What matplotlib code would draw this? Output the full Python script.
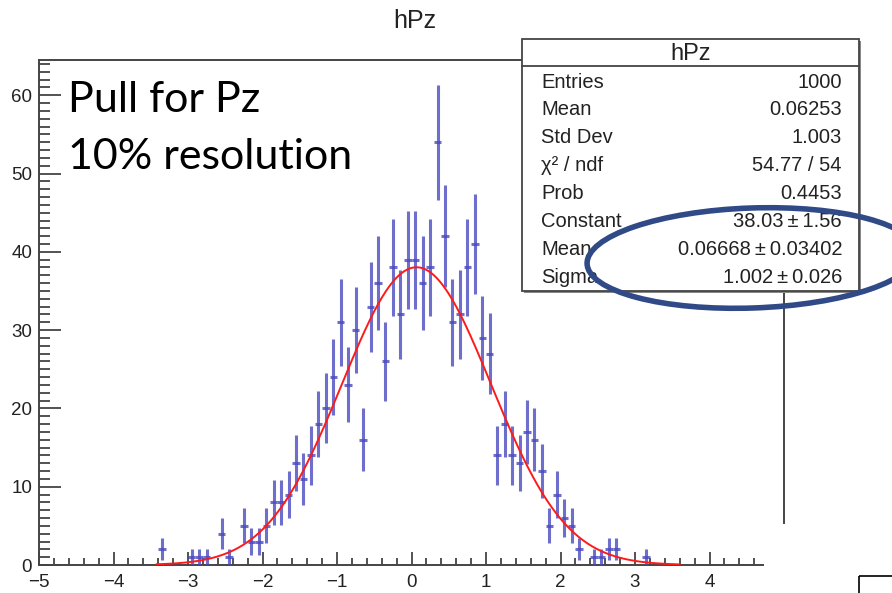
import numpy as np
import matplotlib.pyplot as plt
from matplotlib.patches import Rectangle, Ellipse
from matplotlib.ticker import MultipleLocator, FixedLocator

plt.rcParams['font.family'] = ['Liberation Sans', 'DejaVu Sans']

# filled bins of hPz (bin width 0.1, range -5..5)
bin_centers = [-3.35, -2.95, -2.85, -2.75, -2.55, -2.45, -2.25, -2.15, -2.05, -1.95,
               -1.85, -1.75, -1.65, -1.55, -1.45, -1.35, -1.25, -1.15, -1.05, -0.95,
               -0.85, -0.75, -0.65, -0.55, -0.45, -0.35, -0.25, -0.15, -0.05, 0.05,
               0.15, 0.25, 0.35, 0.45, 0.55, 0.65, 0.75, 0.85, 0.95, 1.05,
               1.15, 1.25, 1.35, 1.45, 1.55, 1.65, 1.75, 1.85, 1.95, 2.05,
               2.15, 2.25, 2.45, 2.55, 2.65, 2.75, 3.15]
counts = [2, 1, 1, 1, 4, 1, 5, 3, 3, 5,
          8, 8, 9, 13, 11, 14, 18, 20, 24, 31,
          23, 30, 16, 33, 36, 26, 38, 32, 39, 39,
          36, 38, 54, 42, 31, 32, 38, 41, 29, 27,
          14, 18, 14, 13, 17, 16, 12, 5, 9, 6,
          5, 2, 1, 1, 2, 2, 1]
bin_width = 0.1

# gaussian fit result
fit_const = 38.03
fit_mean = 0.06668
fit_sigma = 1.002
fit_range = (-3.42, 3.6)

stat_labels = ['Entries', 'Mean', 'Std Dev', '\u03c7\u00b2 / ndf', 'Prob', 'Constant', 'Mean', 'Sigma']
stat_values = ['1000', '0.06253', '1.003', '54.77 / 54', '0.4453',
               '38.03\u2009\u00b1\u20091.56', '0.06668\u2009\u00b1\u20090.03402',
               '1.002\u2009\u00b1\u20090.026']

W, H = 892, 593
fig = plt.figure(figsize=(W / 100, H / 100), dpi=100)
fig.patch.set_facecolor('white')

# frame: x pixels 39..784, y pixels 60..565
ax = fig.add_axes([39 / W, 1 - 565 / H, (784 - 39) / W, (565 - 60) / H])
ax.set_xlim(-5, 5)
ax.set_ylim(0, 64.5)

x = np.array(bin_centers)
n = np.array(counts, dtype=float)
err = np.sqrt(n)
bar_col = '#4a4ac0'
ax.errorbar(x, n, yerr=err, xerr=bin_width / 2, fmt='none', ecolor=bar_col,
            elinewidth=2.2, capsize=0, alpha=0.8, zorder=3)

xf = np.linspace(fit_range[0], fit_range[1], 400)
yf = fit_const * np.exp(-0.5 * ((xf - fit_mean) / fit_sigma) ** 2)
ax.plot(xf, yf, color='#ff1a1a', lw=1.4, zorder=4)

frame_col = '#444444'
label_col = '#222222'
for s in ax.spines.values():
    s.set_color(frame_col)
    s.set_linewidth(1.4)
ax.spines['bottom'].set_bounds(-5, 4.72)
ax.spines['right'].set_bounds(5.4, 64.5)

ax.xaxis.set_major_locator(FixedLocator([-5, -4, -3, -2, -1, 0, 1, 2, 3, 4]))
ax.xaxis.set_minor_locator(FixedLocator(np.round(np.arange(-4.8, 4.7, 0.2), 1)))
ax.yaxis.set_major_locator(MultipleLocator(10))
ax.yaxis.set_minor_locator(MultipleLocator(1))
ax.tick_params(axis='x', which='major', direction='in', length=9.5, width=1.3,
               color=frame_col, labelsize=13.5, labelcolor=label_col, pad=6.5)
ax.tick_params(axis='x', which='minor', direction='in', length=5, width=1.3, color=frame_col)
ax.tick_params(axis='y', which='major', direction='in', length=16, width=1.3,
               color=frame_col, labelsize=13.5, labelcolor=label_col, pad=5)
ax.tick_params(axis='y', which='minor', direction='in', length=8, width=1.3, color=frame_col)
ax.tick_params(top=False, right=False)

# overlay in pixel coordinates for title, stats box and slide annotations
ov = fig.add_axes([0, 0, 1, 1])
ov.set_xlim(0, W)
ov.set_ylim(H, 0)
ov.axis('off')
ov.patch.set_alpha(0)

ov.text(415, 21, 'hPz', ha='center', va='center', fontsize=18, color=label_col)

# stats box
bx0, by0, bx1, by1 = 522, 39, 859, 291
ov.add_patch(Rectangle((bx0 + 2, by0 + 2), bx1 - bx0, by1 - by0, facecolor='#888888',
                       edgecolor='none', zorder=5))
ov.add_patch(Rectangle((bx0, by0), bx1 - bx0, by1 - by0, facecolor='white',
                       edgecolor=frame_col, lw=1.3, zorder=6))
ov.plot([bx0, bx1], [66, 66], color=frame_col, lw=1.3, zorder=7)
ov.text((bx0 + bx1) / 2, 54, 'hPz', ha='center', va='center', fontsize=17,
        color=label_col, zorder=8)
for i, (lab, val) in enumerate(zip(stat_labels, stat_values)):
    yy = 82 + i * 27.9
    ov.text(541, yy, lab, ha='left', va='center', fontsize=14.5, color=label_col, zorder=8)
    ov.text(842, yy, val, ha='right', va='center', fontsize=14.5, color=label_col, zorder=8)

# slide annotations
ov.text(68, 100, 'Pull for Pz', ha='left', va='center', fontsize=31,
        family=['Lato', 'DejaVu Sans'], zorder=8)
ov.text(68, 157, '10% resolution', ha='left', va='center', fontsize=31,
        family=['Lato', 'DejaVu Sans'], zorder=8)
ov.add_patch(Ellipse((752, 258), 330, 100, angle=-2, fill=False,
                     edgecolor='#2f4a86', lw=4, zorder=9))
ov.add_patch(Rectangle((859, 576), 60, 40, fill=False, edgecolor='black', lw=1.2, zorder=9))

fig.savefig('out.png', dpi=100)
